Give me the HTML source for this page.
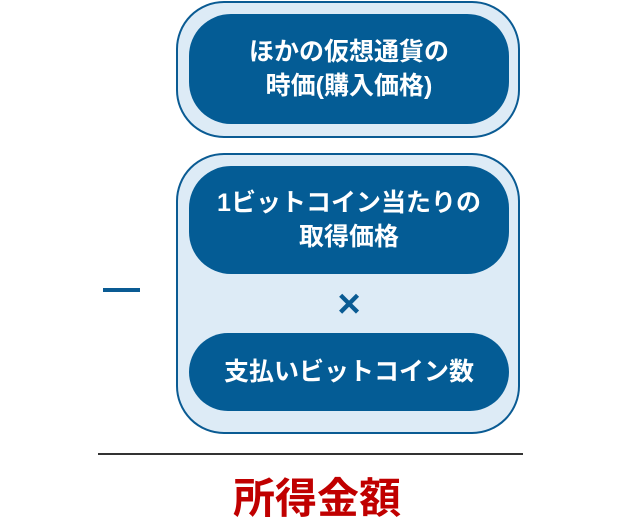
<!DOCTYPE html>
<html><head><meta charset="utf-8"><style>
body{margin:0;width:620px;height:524px;background:#fff;position:relative;font-family:"Liberation Sans","Noto Sans CJK JP",sans-serif;overflow:hidden}
.o{position:absolute;left:176px;width:344px;background:#ddebf6;border:2px solid #0a5b93;border-radius:48px;box-sizing:border-box}
.i{position:absolute;left:189px;width:320px;background:#045c95;border-radius:42px;color:#fff;font-weight:bold;font-size:25px;line-height:34px;display:flex;align-items:center;justify-content:center;text-align:center;letter-spacing:0}
</style></head><body>
<div class="o" style="top:1px;height:137px"></div>
<div class="i" style="top:14px;height:110px">ほかの仮想通貨の<br>時価(購入価格)</div>
<div class="o" style="top:153px;height:281px"></div>
<div class="i" style="top:166px;height:108px">1ビットコイン当たりの<br>取得価格</div>
<div style="position:absolute;left:325px;top:284px;width:48px;text-align:center;font-size:40px;font-weight:bold;color:#0a5b93;line-height:40px">×</div>
<div class="i" style="top:333px;height:78px;border-radius:39px">支払いビットコイン数</div>
<div style="position:absolute;left:103px;top:288px;width:37px;height:4px;background:#0a5b93"></div>
<div style="position:absolute;left:98px;top:453px;width:425px;height:2px;background:#333"></div>
<div style="position:absolute;left:0;width:634px;top:474px;text-align:center;font-size:42px;font-weight:bold;color:#c00000;line-height:50px">所得金額</div>
</body></html>
